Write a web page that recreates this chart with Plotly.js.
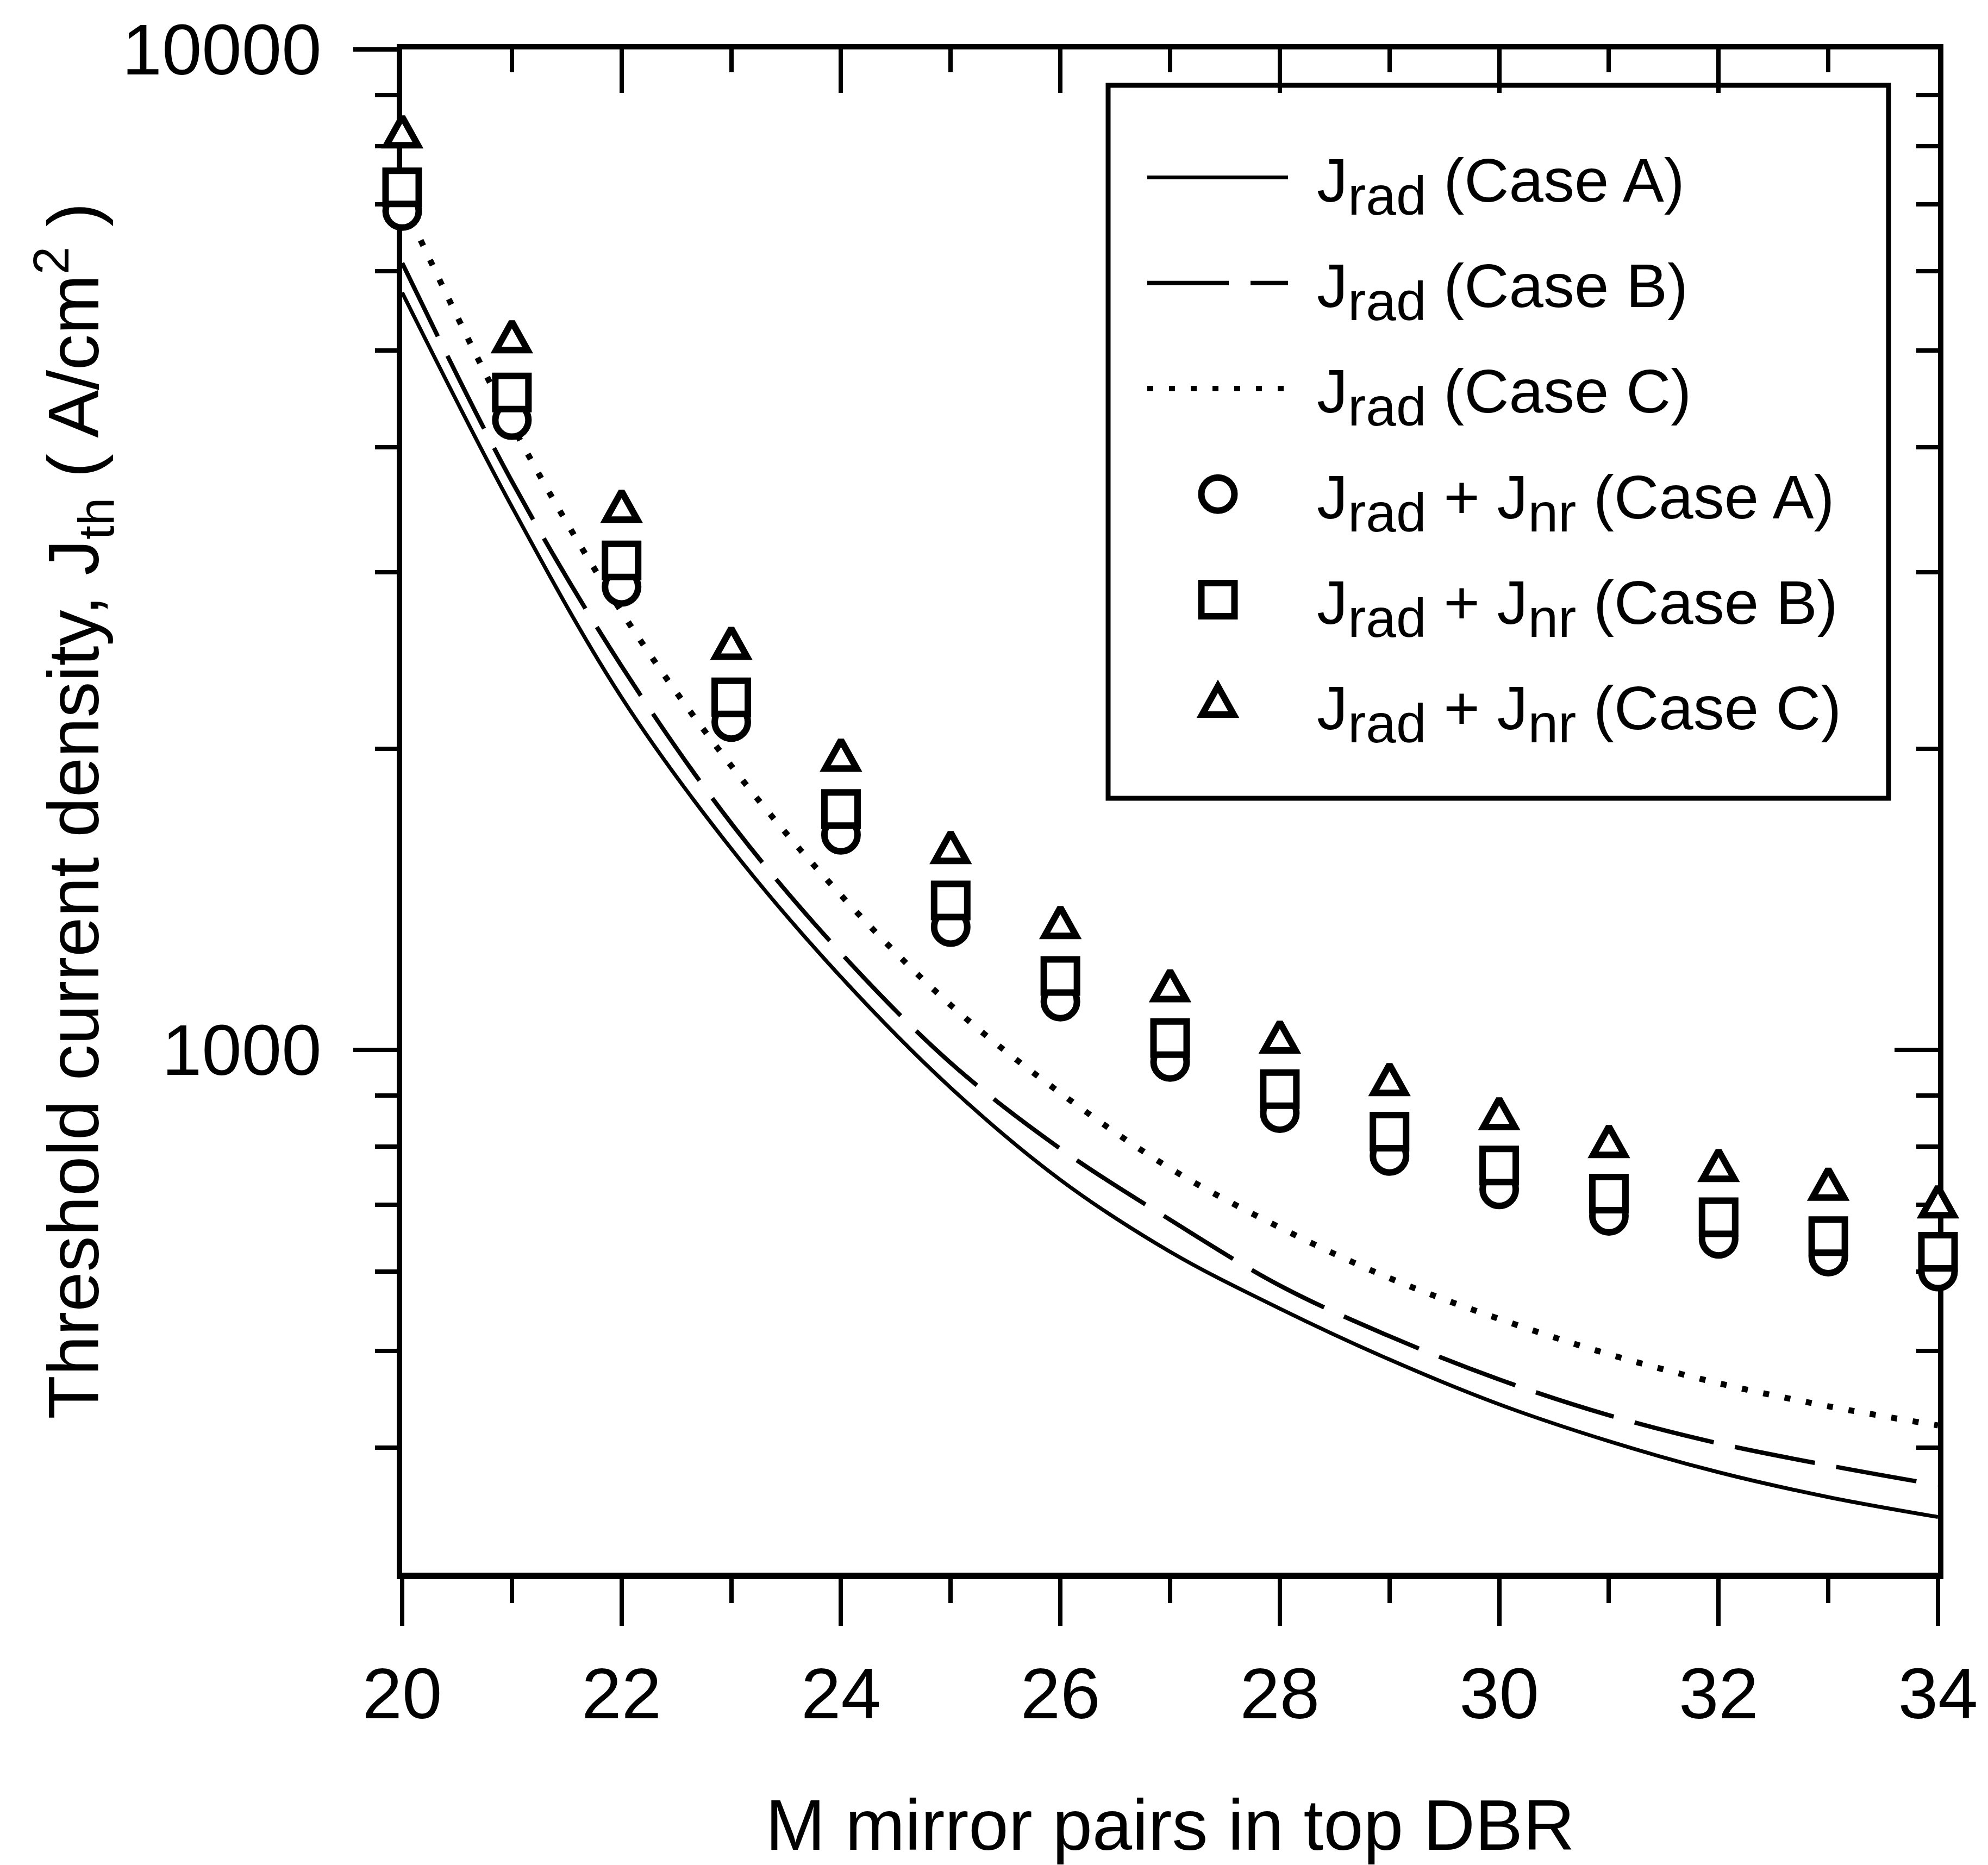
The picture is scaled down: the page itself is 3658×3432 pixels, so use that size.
<!DOCTYPE html>
<html>
<head>
<meta charset="utf-8">
<script src="https://cdn.plot.ly/plotly-3.0.1.min.js"></script>
<style>
  html, body { margin: 0; padding: 0; background: #fff; }
  #plot { width: 3658px; height: 3432px; }
</style>
</head>
<body>
<div id="plot"></div>
<script>
// ---- data ----
const mirrorPairs = [20, 21, 22, 23, 24, 25, 26, 27, 28, 29, 30, 31, 32, 33, 34];

const jRadA = [5714, 3490, 2250, 1588, 1182, 916, 741, 628, 551, 490, 442, 406, 378, 357, 341];
const jRadB = [6117, 3700, 2418, 1684, 1249, 970, 796, 676, 581, 517, 468, 431, 404, 384, 367];
const jRadC = [7057, 4215, 2740, 1922, 1427, 1108, 905, 761, 664, 591, 538, 496, 464, 440, 421];

const jTotA = [6894, 4260, 2902, 2126, 1640, 1326, 1117, 972, 864, 783, 725, 682, 647, 621, 600];
const jTotB = [7279, 4540, 3084, 2250, 1740, 1410, 1185, 1027, 913, 828, 766, 718, 680, 651, 628];
const jTotC = [8198, 5115, 3462, 2525, 1952, 1578, 1328, 1148, 1020, 925, 855, 802, 759, 727, 698];

const xMajorTicks = [20, 22, 24, 26, 28, 30, 32, 34];
const xMinorTicks = [21, 23, 25, 27, 29, 31, 33];
const yMajorTicks = [1000, 10000];
const yMajorText = ['1000', '10000'];
const yMinorTicks = [400, 500, 600, 700, 800, 900, 2000, 3000, 4000, 5000, 6000, 7000, 8000, 9000];

const RAD = 'J<sub><span style="font-size:100px">rad</span></sub>';
const NR = 'J<sub><span style="font-size:100px">nr</span></sub>';
const legendNames = [
  RAD + ' (Case A)',
  RAD + ' (Case B)',
  RAD + ' (Case C)',
  RAD + ' + ' + NR + ' (Case A)',
  RAD + ' + ' + NR + ' (Case B)',
  RAD + ' + ' + NR + ' (Case C)'
];

const xTitle = 'M mirror pairs in top DBR';
const yTitle = 'Threshold current density, J<sub>th</sub> ( A/cm<sup>2</sup> )';

// ---- styling ----
const FONT = 'Liberation Sans, Arial, Helvetica, sans-serif';
const BLACK = '#000000';
const MSIZE = 61, MLW = 12;
// taller open triangle (centroid at the data point), as drawn in the reference
const TRI_PATH = 'M-29,17.3H29L0,-34.7Z';

function lineTrace(y, name, dash, width) {
  return {
    x: mirrorPairs, y: y, name: name, type: 'scatter', mode: 'lines',
    line: { color: BLACK, width: width, dash: dash, shape: 'spline', smoothing: 1 },
    legendgroup: name, hoverinfo: 'skip'
  };
}
function markerTrace(y, name, symbol, uid) {
  return {
    x: mirrorPairs, y: y, name: name, type: 'scatter', mode: 'markers', uid: uid,
    marker: { symbol: symbol, size: MSIZE, color: '#ffffff', line: { color: BLACK, width: MLW } },
    cliponaxis: false, legendgroup: name, hoverinfo: 'skip'
  };
}

const traces = [
  lineTrace(jRadA, legendNames[0], 'solid', 7),
  lineTrace(jRadB, legendNames[1], '150px,40px', 8),
  lineTrace(jRadC, legendNames[2], '11px,29px', 11),
  markerTrace(jTotA, legendNames[3], 'circle', 'totA'),
  markerTrace(jTotB, legendNames[4], 'square', 'totB'),
  Object.assign(markerTrace(jTotC, legendNames[5], 'triangle-up', 'totC'), { xaxis: 'x2', yaxis: 'y2' })
];

const yRange = [Math.log10(300), 4];
const W = 3658, H = 3432;
const M = { l: 740, r: 92, t: 91, b: 538 };
const PW = W - M.l - M.r, PH = H - M.t - M.b;

const LEG_LEFT = 2059, ITEM_W = 354;

const tickCommon = { tickcolor: BLACK, tickwidth: 8, showgrid: false, zeroline: false, linecolor: BLACK, layer: 'below traces', automargin: false };

const layout = {
  width: W, height: H,
  margin: M,
  paper_bgcolor: '#ffffff', plot_bgcolor: '#ffffff',
  font: { family: FONT, color: BLACK, size: 132 },
  showlegend: true,
  legend: {
    x: (LEG_LEFT - M.l) / PW, y: 1 - (246 - M.t) / PH, xanchor: 'left', yanchor: 'top',
    bgcolor: 'rgba(0,0,0,0)', borderwidth: 0,
    font: { family: FONT, size: 114, color: BLACK },
    itemwidth: ITEM_W, tracegroupgap: 43, traceorder: 'grouped'
  },
  xaxis: Object.assign({}, tickCommon, {
    range: [20, 34], tickmode: 'array', tickvals: xMajorTicks,
    ticks: 'outside', ticklen: 86, showline: true, linewidth: 12,
    minor: { tickmode: 'array', tickvals: xMinorTicks, ticks: 'outside', ticklen: 44, tickwidth: 8, tickcolor: BLACK, showgrid: false },
    tickfont: { family: FONT, size: 132 }, ticklabelstandoff: 12,
    title: { text: xTitle, font: { family: FONT, size: 132 }, standoff: 178 }
  }),
  yaxis: Object.assign({}, tickCommon, {
    type: 'log', range: yRange, tickmode: 'array', tickvals: yMajorTicks, ticktext: yMajorText,
    ticks: 'outside', ticklen: 80, showline: true, linewidth: 10,
    minor: { tickmode: 'array', tickvals: yMinorTicks, ticks: 'outside', ticklen: 40, tickwidth: 8, tickcolor: BLACK, showgrid: false },
    tickfont: { family: FONT, size: 132 }, ticklabelstandoff: 32,
    title: { text: yTitle, font: { family: FONT, size: 132 }, standoff: 2 }
  }),
  xaxis2: Object.assign({}, tickCommon, {
    overlaying: 'x', side: 'top', anchor: 'y2',
    range: [20, 34], tickmode: 'array', tickvals: xMajorTicks, showticklabels: false,
    ticks: 'inside', ticklen: 80, showline: true, linewidth: 10,
    minor: { tickmode: 'array', tickvals: xMinorTicks, ticks: 'inside', ticklen: 42, tickwidth: 8, tickcolor: BLACK, showgrid: false }
  }),
  yaxis2: Object.assign({}, tickCommon, {
    overlaying: 'y', side: 'right', anchor: 'x2',
    type: 'log', range: yRange, tickmode: 'array', tickvals: yMajorTicks, showticklabels: false,
    ticks: 'inside', ticklen: 80, showline: true, linewidth: 10,
    minor: { tickmode: 'array', tickvals: yMinorTicks, ticks: 'inside', ticklen: 40, tickwidth: 8, tickcolor: BLACK, showgrid: false }
  }),
  shapes: [{
    type: 'rect', xref: 'paper', yref: 'paper', layer: 'below',
    x0: (2039 - M.l) / PW, x1: (3475 - M.l) / PW,
    y0: 1 - (1469 - M.t) / PH, y1: 1 - (157 - M.t) / PH,
    line: { color: BLACK, width: 9 }, fillcolor: 'rgba(0,0,0,0)'
  }]
};

Plotly.newPlot('plot', traces, layout, { staticPlot: true, displayModeBar: false }).then(function (gd) {
  // triangles of the plotted series: taller outline, same Plotly-computed positions
  gd.querySelectorAll('.tracetotC path.point').forEach(function (p) {
    p.setAttribute('d', TRI_PATH);
  });
  // Plotly caps legend symbols at 16px; bring them to the plotted marker size
  const scale = MSIZE / 16;
  const items = gd.querySelectorAll('.legend .traces');
  items.forEach(function (tr, i) {
    tr.querySelectorAll('.legendpoints path.scatterpts').forEach(function (p) {
      if (i === 5) {
        p.setAttribute('d', TRI_PATH);
        p.style.strokeWidth = MLW + 'px';
      } else {
        const t = p.getAttribute('transform') || '';
        p.setAttribute('transform', t + ' scale(' + scale + ')');
        p.style.strokeWidth = (MLW / scale) + 'px';
      }
    });
    tr.querySelectorAll('.legendlines path').forEach(function (p) {
      p.setAttribute('d', 'M52,0h259');
    });
  });
});
</script>
</body>
</html>
